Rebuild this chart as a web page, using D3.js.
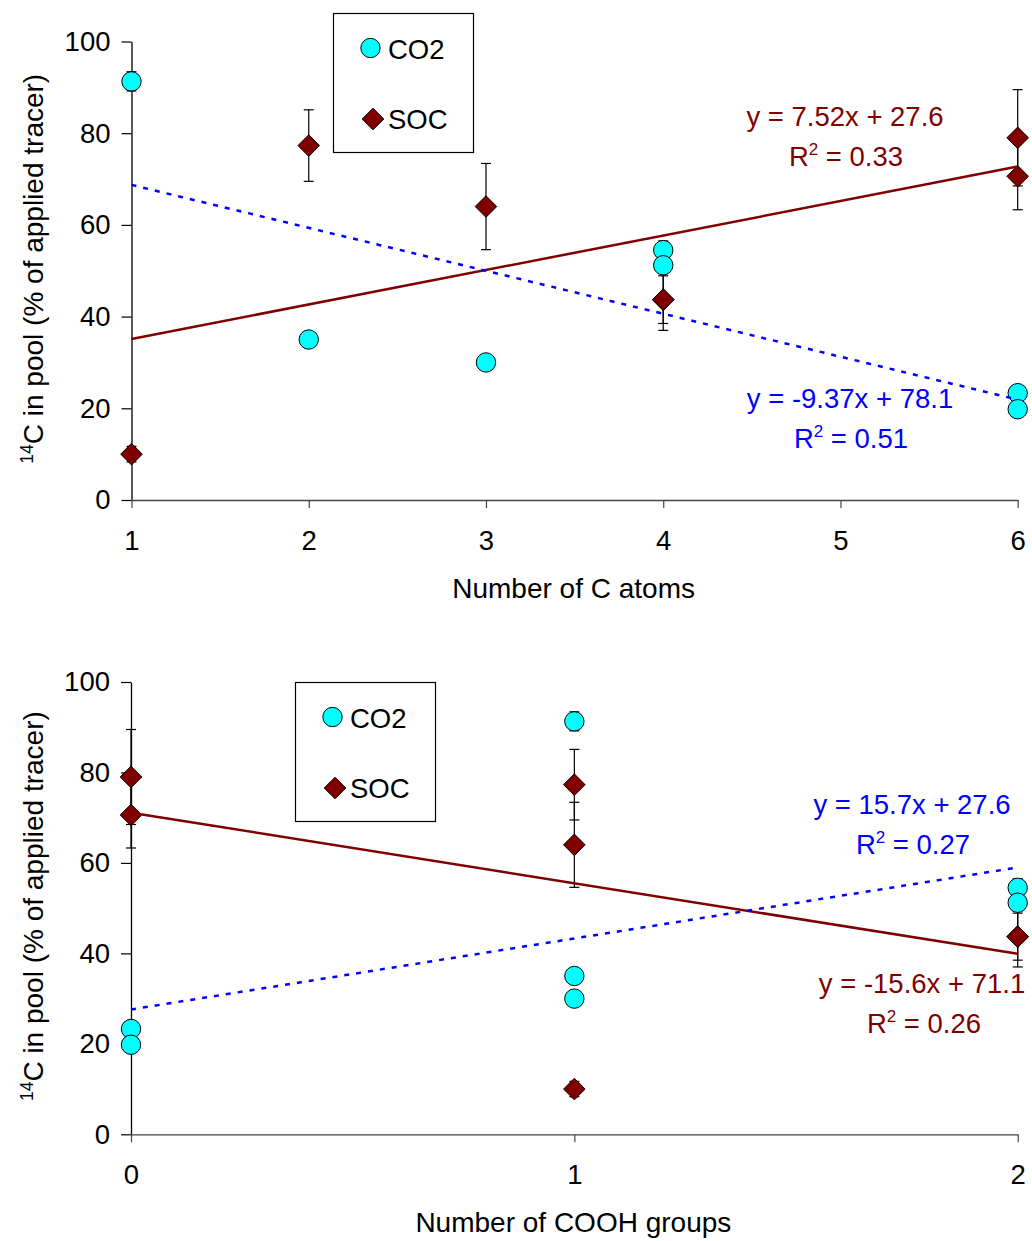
<!DOCTYPE html>
<html>
<head>
<meta charset="utf-8">
<script src="https://cdn.jsdelivr.net/npm/d3@7"></script>
<style>
  html, body { margin: 0; padding: 0; background: #fff; }
  svg { display: block; font-family: "Liberation Sans", Arial, sans-serif; }
</style>
</head>
<body>
<svg id="chart" width="1032" height="1241"></svg>
<script>
// Seven substrates: carbon count, carboxyl count and recovered 14C (% of applied)
const carbonAtoms = [1, 2, 3, 4, 4, 6, 6];
const coohGroups  = [1, 1, 1, 2, 2, 0, 0];
const co2Mean = [91.3, 35.0, 30.0, 54.5, 51.2, 23.3, 19.8];
const co2Err  = [2.1, 0.8, 1.3, 2.0, 1.8, 0.8, 0.8];
const socMean = [10.0, 77.3, 64.0, 43.7, 43.7, 79.0, 70.6];
const socErr  = [1.7, 7.8, 9.4, 5.2, 6.7, 10.5, 7.3];

// Linear fits: [slope, intercept, R²]
const fitCarbonCO2 = [-9.37, 78.1, 0.51];
const fitCarbonSOC = [7.52, 27.6, 0.33];
const fitCoohCO2   = [15.7, 27.6, 0.27];
const fitCoohSOC   = [-15.6, 71.1, 0.26];

const carbonTicks = [1, 2, 3, 4, 5, 6];
const coohTicks   = [0, 1, 2];
const yTicks      = [0, 20, 40, 60, 80, 100];
const seriesNames = ["CO2", "SOC"];

const CYAN = "#00FFFF", DARKRED = "#800000", BLUE = "#0000FF";
const FONT = 27.5;
const TITLE_FONT = 28;

const svg = d3.select("#chart");
svg.append("rect").attr("width", 1032).attr("height", 1241).attr("fill", "#fff");

function drawPanel(cfg) {
  const x = d3.scaleLinear().domain(cfg.xDomain).range([cfg.left, cfg.right]);
  const y = d3.scaleLinear().domain([0, 100]).range([cfg.bottom, cfg.top]);
  const g = svg.append("g");

  // y axis
  const yAxis = g.append("g").attr("transform", `translate(${cfg.left},0)`)
    .call(d3.axisLeft(y).tickValues(yTicks).tickSize(10).tickPadding(11).tickSizeOuter(0));
  yAxis.select(".domain").attr("stroke", "#000").attr("stroke-width", 1.3);
  yAxis.selectAll(".tick line").attr("stroke", "#000").attr("stroke-width", 1.2);
  yAxis.selectAll("text").attr("font-size", FONT).attr("fill", "#000")
    .attr("font-family", "Liberation Sans, Arial, sans-serif");

  // x axis
  const xAxis = g.append("g").attr("transform", `translate(0,${cfg.bottom})`)
    .call(d3.axisBottom(x).tickValues(cfg.xTicks).tickFormat(d3.format("d"))
      .tickSize(8).tickPadding(22).tickSizeOuter(0));
  xAxis.select(".domain").attr("stroke", "#444").attr("stroke-width", 1.3);
  xAxis.selectAll(".tick line").attr("stroke", "#444").attr("stroke-width", 1.2);
  xAxis.selectAll("text").attr("font-size", FONT).attr("fill", "#000")
    .attr("font-family", "Liberation Sans, Arial, sans-serif");

  // axis titles
  g.append("text")
    .attr("x", (cfg.left + cfg.right) / 2 - 1).attr("y", cfg.bottom + 98)
    .attr("text-anchor", "middle").attr("font-size", TITLE_FONT).text(cfg.xTitle);

  const yt = g.append("text")
    .attr("transform", `translate(43,${(cfg.top + cfg.bottom) / 2 - 2}) rotate(-90)`)
    .attr("text-anchor", "middle").attr("font-size", TITLE_FONT);
  yt.append("tspan").attr("font-size", 17.5).attr("dy", -10).text("14");
  yt.append("tspan").attr("dy", 10).text("C in pool (% of applied tracer)");

  // error bars
  const bars = [];
  cfg.xVals.forEach((xv, i) => {
    bars.push({ x: xv, m: co2Mean[i], e: co2Err[i] });
    bars.push({ x: xv, m: socMean[i], e: socErr[i] });
  });
  const eb = g.append("g").attr("stroke", "#000").attr("stroke-width", 1.2).attr("fill", "none");
  bars.forEach(b => {
    const cx = x(b.x), y0 = y(b.m - b.e), y1 = y(b.m + b.e);
    eb.append("line").attr("x1", cx).attr("x2", cx).attr("y1", y0).attr("y2", y1);
    eb.append("line").attr("x1", cx - 5).attr("x2", cx + 5).attr("y1", y0).attr("y2", y0);
    eb.append("line").attr("x1", cx - 5).attr("x2", cx + 5).attr("y1", y1).attr("y2", y1);
  });

  // SOC diamonds
  const diamond = (cx, cy, r) => `M${cx},${cy - r}L${cx + r},${cy}L${cx},${cy + r}L${cx - r},${cy}Z`;
  g.append("g").selectAll("path").data(cfg.xVals.map((xv, i) => [xv, socMean[i]]))
    .join("path")
    .attr("d", d => diamond(x(d[0]), y(d[1]), 10.8))
    .attr("fill", DARKRED).attr("stroke", "#000").attr("stroke-width", 1);

  // CO2 circles
  g.append("g").selectAll("circle").data(cfg.xVals.map((xv, i) => [xv, co2Mean[i]]))
    .join("circle")
    .attr("cx", d => x(d[0])).attr("cy", d => y(d[1])).attr("r", 9.7)
    .attr("fill", CYAN).attr("stroke", "#000").attr("stroke-width", 1);

  // trend lines
  const [x0, x1] = cfg.xDomain;
  const fitLine = (f) => [[x0, f[0] * x0 + f[1]], [x1, f[0] * x1 + f[1]]];
  const line = d3.line().x(d => x(d[0])).y(d => y(d[1]));
  g.append("path").attr("d", line(fitLine(cfg.socFit)))
    .attr("stroke", DARKRED).attr("stroke-width", 2.5).attr("fill", "none");
  g.append("path").attr("d", line(fitLine(cfg.co2Fit)))
    .attr("stroke", BLUE).attr("stroke-width", 2.5).attr("stroke-dasharray", "5,7").attr("fill", "none");

  // equation labels
  function eqLabel(f, pos, color) {
    const eq = `y = ${f[0]}x + ${f[1]}`;
    g.append("text").attr("x", pos[0]).attr("y", pos[1]).attr("text-anchor", "middle")
      .attr("font-size", FONT).attr("fill", color).text(eq);
    const r = g.append("text").attr("x", pos[2]).attr("y", pos[3]).attr("text-anchor", "middle")
      .attr("font-size", FONT).attr("fill", color);
    r.append("tspan").text("R");
    r.append("tspan").attr("font-size", 17).attr("dy", -11).text("2");
    r.append("tspan").attr("dy", 11).text(` = ${f[2].toFixed(2)}`);
  }
  eqLabel(cfg.socFit, cfg.socLabel, DARKRED);
  eqLabel(cfg.co2Fit, cfg.co2Label, BLUE);

  // legend
  const L = cfg.legend;
  const lg = g.append("g").attr("transform", `translate(${L[0]},${L[1]})`);
  lg.append("rect").attr("x", 0.5).attr("y", 0.5).attr("width", 140).attr("height", 139)
    .attr("fill", "#fff").attr("stroke", "#000").attr("stroke-width", 1.2);
  lg.append("circle").attr("cx", 37.5).attr("cy", 35).attr("r", 9.7)
    .attr("fill", CYAN).attr("stroke", "#000").attr("stroke-width", 1);
  lg.append("path").attr("d", diamond(40, 106, 10.8))
    .attr("fill", DARKRED).attr("stroke", "#000").attr("stroke-width", 1);
  lg.append("text").attr("x", 55).attr("y", 46).attr("font-size", FONT).text(seriesNames[0]);
  lg.append("text").attr("x", 55).attr("y", 115.5).attr("font-size", FONT).text(seriesNames[1]);
}

drawPanel({
  xVals: carbonAtoms, xDomain: [1, 6], xTicks: carbonTicks,
  left: 131.5, right: 1017.7, top: 41.5, bottom: 500,
  xTitle: "Number of C atoms",
  co2Fit: fitCarbonCO2, socFit: fitCarbonSOC,
  socLabel: [845, 126, 846, 166], co2Label: [850, 408, 851, 448],
  legend: [333, 13]
});

drawPanel({
  xVals: coohGroups, xDomain: [0, 2], xTicks: coohTicks,
  left: 131, right: 1017.7, top: 682, bottom: 1134.3,
  xTitle: "Number of COOH groups",
  co2Fit: fitCoohCO2, socFit: fitCoohSOC,
  socLabel: [922, 993, 924, 1033], co2Label: [912, 814, 913, 854],
  legend: [295, 682]
});
</script>
</body>
</html>
